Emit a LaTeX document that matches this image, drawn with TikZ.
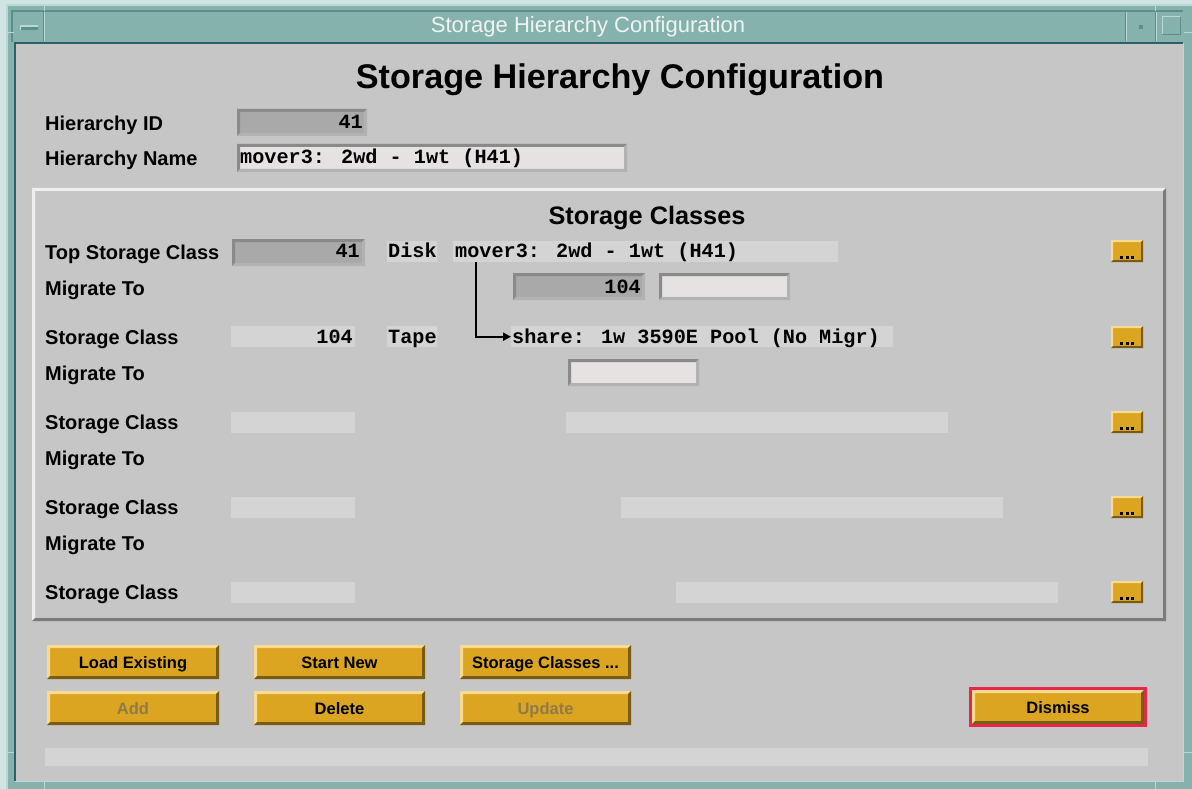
\documentclass[tikz,border=0pt]{standalone}
\usepackage{fontspec}
\setmainfont{Liberation Sans}
\newfontfamily\monofnt{Liberation Mono}
\usetikzlibrary{arrows.meta,calc}
\definecolor{bggray}{HTML}{C6C6C6}
\definecolor{flatgray}{HTML}{D4D4D4}
\definecolor{entry}{HTML}{E6E2E2}
\definecolor{stip}{HTML}{A9A9A9}
\definecolor{sunkdark}{HTML}{8A8A8A}
\definecolor{sunklight}{HTML}{B2B2B2}
\definecolor{paneldark}{HTML}{7B7B7B}
\definecolor{panellight}{HTML}{EFEFEF}
\definecolor{tealc}{HTML}{86B2AD}
\definecolor{tealdark}{HTML}{2F6068}
\definecolor{teallight}{HTML}{BCD8D4}
\definecolor{tealmid}{HTML}{5E8E8A}
\definecolor{gold}{HTML}{DBA521}
\definecolor{goldlight}{HTML}{F6DB91}
\definecolor{golddark}{HTML}{7A5B13}
\definecolor{disabledtxt}{HTML}{8F7B45}
\definecolor{redframe}{HTML}{E8264C}
\definecolor{titletxt}{HTML}{EEF4F2}

% bevel: x1 y1 x2 y2 width topleftcolor bottomrightcolor
\newcommand{\bev}[7]{%
  \fill[#6] (#1,#2) -- (#3,#2) -- ({#3-#5},{#2+#5}) -- ({#1+#5},{#2+#5}) -- ({#1+#5},{#4-#5}) -- (#1,#4) -- cycle;
  \fill[#7] (#3,#4) -- (#1,#4) -- ({#1+#5},{#4-#5}) -- ({#3-#5},{#4-#5}) -- ({#3-#5},{#2+#5}) -- (#3,#2) -- cycle;}
% gold button: name x1 y1 x2 y2 text textcolor
\newcommand{\gbtn}[7]{%
  \fill[gold] (#2,#3) rectangle (#4,#5);
  \bev{#2}{#3}{#4}{#5}{3}{goldlight}{golddark}
  \node[btntext,text=#7] (#1) at ({(#2+#4)/2},{(#3+#5)/2+6}) {#6};}
% small "..." button: name x1 ycenter
\newcommand{\dotbtn}[3]{%
  \fill[gold] (#2,{#3-11}) rectangle ({#2+32},{#3+11});
  \bev{#2}{#3-11}{#2+32}{#3+11}{2}{goldlight}{golddark}
  \coordinate (#1) at ({#2+16},{#3+6});
  \fill[black] ($(#1)+(-7,-1)$) rectangle ++(3,3);
  \fill[black] ($(#1)+(-1.5,-1)$) rectangle ++(3,3);
  \fill[black] ($(#1)+(4,-1)$) rectangle ++(3,3);}
% sunken field: x1 y1 x2 y2 fill
\newcommand{\sunk}[5]{%
  \fill[#5] (#1,#2) rectangle (#3,#4);
  \bev{#1}{#2}{#3}{#4}{3}{sunkdark}{sunklight}}

\tikzset{
  lbl/.style={anchor=base west, inner sep=0, font=\fontsize{20}{20}\selectfont\bfseries, text=black},
  mono/.style={inner sep=0, font=\fontsize{20.2}{20.2}\selectfont\monofnt\bfseries, text=black},
  btntext/.style={anchor=base, inner sep=0, font=\fontsize{16.5}{16.5}\selectfont\bfseries},
  flat/.style={fill=flatgray, draw=none, inner sep=0, anchor=north west, minimum height=21},
  conn/.style={line width=2.3, -{Triangle[length=8,width=8]}},
}

\begin{document}
\begin{tikzpicture}[x=1pt,y=-1pt]
\useasboundingbox (0,0) rectangle (1192,789);
% outer frame
\fill[teallight!70!white] (0,0) rectangle (1192,789);
\fill[tealc] (6,4) rectangle (1192,789);
\draw[teallight, line width=1.5] (7,789) -- (7,5) -- (1192,5);
% title bar
\fill[tealc] (12,11) rectangle (1183,42);
\draw[tealmid, line width=1.5] (12,42) -- (12,11) -- (1183,11);
\draw[teallight, line width=1] (44,12) -- (44,41);
\draw[tealmid, line width=1] (43,12) -- (43,41);
\draw[teallight, line width=1] (1126,12) -- (1126,41);
\draw[tealmid, line width=1] (1125,12) -- (1125,41);
\draw[teallight, line width=1] (1156,12) -- (1156,41);
\draw[tealmid, line width=1] (1155,12) -- (1155,41);
% menu glyph
\fill[teallight] (20,25) rectangle (38,30);
\fill[tealmid] (21,27) rectangle (38,30);
% minimize dot
\fill[tealmid] (1139,25) rectangle (1143,29);
% maximize box
\draw[teallight, line width=1] (1162,35) -- (1162,17) -- (1180,17);
\draw[tealmid, line width=1] (1162,35) -- (1180,35) -- (1180,17);
% corner marks
\draw[teallight, line width=1] (44,4) -- (44,11);
\draw[teallight, line width=1] (1155,4) -- (1155,11);
\draw[teallight, line width=1] (44,781) -- (44,789);
\draw[teallight, line width=1] (1155,781) -- (1155,789);
\draw[teallight, line width=1] (6,33) -- (14,33);
\draw[teallight, line width=1] (6,752) -- (14,752);
\draw[teallight, line width=1] (1184,33) -- (1192,33);
\draw[teallight, line width=1] (1184,752) -- (1192,752);
% content area
\fill[bggray] (15,43) rectangle (1183,781);
\draw[tealdark, line width=2] (15,781) -- (15,43) -- (1183,43);
\draw[teallight, line width=1.5] (15,781.5) -- (1183.5,781.5) -- (1183.5,43);

% window title
\node[inner sep=0, anchor=base, font=\fontsize{22}{22}\selectfont, text=titletxt] (wtitle) at (588,33) {Storage Hierarchy Configuration};
% heading
\node[inner sep=0, anchor=base, font=\fontsize{34.2}{34.2}\selectfont\bfseries] (heading) at (620,89) {Storage Hierarchy Configuration};

% hierarchy fields
\node[lbl] (lid) at (45,131) {Hierarchy ID};
\node[lbl] (lname) at (45,166) {Hierarchy Name};
\sunk{237}{109}{367}{136}{stip}
\node[mono, anchor=base east] (vid) at (363,129) {41};
\sunk{237}{144}{627}{172}{entry}
\node[mono, anchor=base west] (vname) at (240,164) {mover3: 2wd - 1wt (H41)};

% storage classes panel
\fill[bggray] (32,188) rectangle (1166,621);
\bev{32}{188}{1166}{621}{3}{panellight}{paneldark}
\node[inner sep=0, anchor=base, font=\fontsize{25.3}{25.3}\selectfont\bfseries] (sctitle) at (647,224) {Storage Classes};

% row labels
\node[lbl] (l1) at (45,259) {Top Storage Class};
\node[lbl] (m1) at (45,295) {Migrate To};
\node[lbl] (l2) at (45,344) {Storage Class};
\node[lbl] (m2) at (45,380) {Migrate To};
\node[lbl] (l3) at (45,429) {Storage Class};
\node[lbl] (m3) at (45,465) {Migrate To};
\node[lbl] (l4) at (45,514) {Storage Class};
\node[lbl] (m4) at (45,550) {Migrate To};
\node[lbl] (l5) at (45,599) {Storage Class};

% row 1
\sunk{232}{239}{365}{266}{stip}
\node[mono, anchor=base east] (v1) at (360,257) {41};
\node[flat, minimum width=50] (t1) at (387,241) {};
\node[mono, anchor=base west] at (388,257) {Disk};
\node[flat, minimum width=385] (n1) at (453,241) {};
\node[mono, anchor=base west] at (455,257) {mover3: 2wd - 1wt (H41)};
\sunk{513}{273}{645}{300}{stip}
\node[mono, anchor=base east] (mv1) at (641,293) {104};
\sunk{659}{273}{790}{300}{entry}

% row 2
\node[flat, minimum width=124] (b2) at (231,326) {};
\node[mono, anchor=base east] at (353,343) {104};
\node[flat, minimum width=50] (t2) at (387,326) {};
\node[mono, anchor=base west] at (388,343) {Tape};
\node[flat, minimum width=382] (n2) at (511,326) {};
\node[mono, anchor=base west] at (512,343) {share: 1w 3590E Pool (No Migr)};
\sunk{568}{359}{699}{386}{entry}

% rows 3-5
\node[flat, minimum width=124] (b3) at (231,412) {};
\node[flat, minimum width=382] (n3) at (566,412) {};
\node[flat, minimum width=124] (b4) at (231,497) {};
\node[flat, minimum width=382] (n4) at (621,497) {};
\node[flat, minimum width=124] (b5) at (231,582) {};
\node[flat, minimum width=382] (n5) at (676,582) {};

% connector
\draw[conn] ($(n1.south west)+(23,0)$) |- (n2.west);

% dot buttons
\dotbtn{d1}{1111}{251}
\dotbtn{d2}{1111}{337}
\dotbtn{d3}{1111}{422}
\dotbtn{d4}{1111}{507}
\dotbtn{d5}{1111}{592}

% bottom buttons
\gbtn{bload}{47}{645}{219}{679}{Load Existing}{black}
\gbtn{bnew}{254}{645}{425}{679}{Start New}{black}
\gbtn{bsc}{460}{645}{631}{679}{Storage Classes ...}{black}
\gbtn{badd}{47}{691}{219}{725}{Add}{disabledtxt}
\gbtn{bdel}{254}{691}{425}{725}{Delete}{black}
\gbtn{bupd}{460}{691}{631}{725}{Update}{disabledtxt}
\fill[redframe] (969,687) rectangle (1147,727);
\gbtn{bdis}{972}{690}{1144}{724}{Dismiss}{black}

% status bar
\fill[flatgray] (45,748) rectangle (1148,766);
\end{tikzpicture}
\end{document}
